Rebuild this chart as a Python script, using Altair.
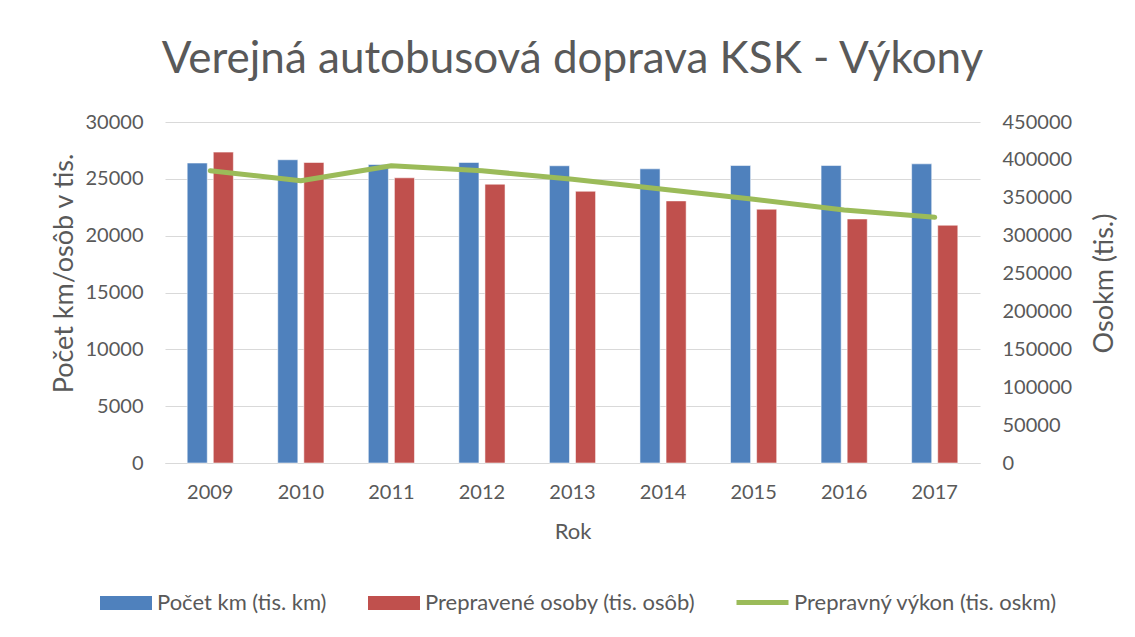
import altair as alt
import pandas as pd

years = ["2009", "2010", "2011", "2012", "2013", "2014", "2015", "2016", "2017"]
pocet_km = [26390, 26680, 26260, 26440, 26150, 25880, 26170, 26170, 26320]
prepravene = [27350, 26440, 25090, 24530, 23910, 23060, 22330, 21470, 20920]
vykon = [385700, 372500, 392300, 385700, 374400, 361200, 348000, 333900, 324200]

s1 = "Počet km (tis. km)"
s2 = "Prepravené osoby (tis. osôb)"
s3 = "Prepravný výkon (tis. oskm)"

bars_df = pd.DataFrame({
    "Rok": years * 2,
    "series": [s1] * len(years) + [s2] * len(years),
    "value": pocet_km + prepravene,
})
line_df = pd.DataFrame({"Rok": years, "series": [s3] * len(years), "value": vykon})

FONT = "Lato"
TXT = "#595959"

x = alt.X("Rok:N", title="Rok", sort=years,
          scale=alt.Scale(paddingInner=0.49, paddingOuter=0.245),
          axis=alt.Axis(labelAngle=0, ticks=False, domain=True, domainColor="#d9d9d9",
                        labelPadding=19, titlePadding=19, titleFontSize=22))

bars = alt.Chart(bars_df).mark_bar(stroke="white", strokeOpacity=0.55, strokeWidth=1).encode(
    x=x,
    xOffset=alt.XOffset("series:N", sort=[s1, s2], scale=alt.Scale(paddingInner=0.23)),
    y=alt.Y("value:Q", title="Počet km/osôb v tis.",
            scale=alt.Scale(domain=[0, 30000], nice=False),
            axis=alt.Axis(values=list(range(0, 30001, 5000)), format="d", grid=True,
                          gridColor="#d9d9d9", domain=False, ticks=False, labelPadding=22,
                          titlePadding=7, titleY=151)),
    fill=alt.Fill("series:N", sort=[s1, s2],
                  scale=alt.Scale(domain=[s1, s2], range=["#4F81BD", "#C0504D"]),
                  legend=alt.Legend(title=None, orient="none", direction="horizontal",
                                    legendX=-65, legendY=455,
                                    symbolType="M-1,-0.27H1V0.27H-1Z", symbolSize=2704,
                                    symbolStrokeWidth=0, columnPadding=41, labelOffset=5)),
)

line = alt.Chart(line_df).mark_line(strokeWidth=5, strokeCap="round", strokeJoin="round").encode(
    x=alt.X("Rok:N", sort=years),
    y=alt.Y("value:Q", title="Osokm (tis.)",
            scale=alt.Scale(domain=[0, 450000], nice=False),
            axis=alt.Axis(orient="right", values=list(range(0, 450001, 50000)), format="d",
                          grid=False, domain=False, ticks=False, labelPadding=22,
                          titlePadding=47, titleAngle=270, titleY=161)),
    stroke=alt.Stroke("series:N",
                      scale=alt.Scale(domain=[s3], range=["#9BBB59"]),
                      legend=alt.Legend(title=None, orient="none", direction="horizontal",
                                        legendX=569, legendY=452,
                                        symbolType="stroke", symbolSize=2704,
                                        symbolStrokeWidth=5, labelOffset=3)),
)

chart = alt.layer(bars, line).resolve_scale(y="independent").properties(
    width=815, height=341,
    autosize=alt.AutoSizeParams(type="none"),
    padding={"left": 157, "top": 114, "right": 147, "bottom": 166},
    title=alt.Title("Verejná autobusová doprava KSK - Výkony", fontSize=44, font=FONT,
                    color=TXT, fontWeight="normal", anchor="middle", baseline="alphabetic",
                    offset=0, dy=5),
).configure_view(stroke=None).configure_axis(
    labelFont=FONT, titleFont=FONT, labelFontSize=20, titleFontSize=27,
    labelColor=TXT, titleColor=TXT, titleFontWeight="normal",
).configure_legend(
    labelFont=FONT, labelFontSize=22, labelColor=TXT, labelLimit=400,
)

chart.save("out.html", embed_options={"renderer": "svg", "actions": False})
